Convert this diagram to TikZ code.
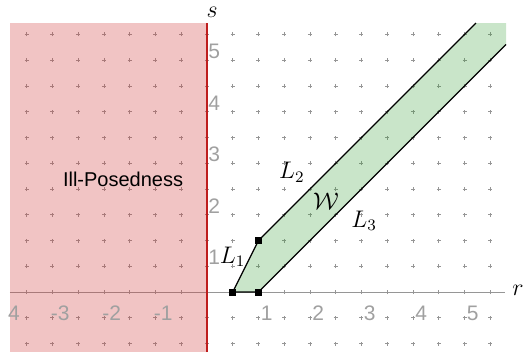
\documentclass[tikz,border=0pt]{standalone}
\usepackage{amsmath}
\usepackage{fontspec}
\setsansfont{Liberation Sans}
\usepackage{xcolor}
\usetikzlibrary{calc}
\definecolor{illred}{RGB}{210,60,60}
\definecolor{wgreen}{RGB}{40,150,40}
\definecolor{axisred}{RGB}{190,30,30}
\definecolor{gridgray}{RGB}{150,150,150}
\definecolor{ticklab}{RGB}{160,160,160}

\begin{document}
\begin{tikzpicture}[
  x=25.75pt, y=25.75pt,
  gdot/.style={gridgray, line width=0.4pt},
  ticklbl/.style={font=\sffamily\fontsize{10.5}{12}\selectfont, text=ticklab, inner sep=0pt},
  mlbl/.style={font=\fontsize{11.5}{13}\selectfont, inner sep=0pt},
  corner/.style={draw, fill=black, rectangle, minimum size=3pt, inner sep=0pt},
  bound/.style={draw=black, line width=0.6pt}
]
  \useasboundingbox (-4.019,-1.165) rectangle (6.136,5.670);

  % dotted grid, half units
  \foreach \i in {-7,...,11}
    \foreach \j in {-2,...,10}
      \draw[gdot] ($(\i*0.5,\j*0.5)+(-1pt,0)$) -- ++(2pt,0)
                  ($(\i*0.5,\j*0.5)+(0,-1pt)$) -- ++(0,2pt);
  \draw[gridgray, line width=0.5pt] (-3.825,0) -- (5.79,0);

  % ill-posed half plane
  \fill[illred, fill opacity=0.3] (-3.825,-1.165) rectangle (0,5.223);
  \draw[axisred, line width=1pt] (0,-1.165) -- (0,5.223);

  % region W
  \coordinate (A) at (0.5,0);
  \coordinate (B) at (1,0);
  \coordinate (C) at (1,1);
  \coordinate (D) at (5.806,4.806);
  \coordinate (E) at (5.806,5.223);
  \coordinate (F) at (5.223,5.223);
  \fill[wgreen, fill opacity=0.25] (A) -- (B) -- (D) -- (E) -- (F) -- (C) -- cycle;
  \draw[bound] (C) -- (A) -- (B) -- (D);
  \draw[bound] (C) -- (F);
  \node[corner] (pa) at (A) {};
  \node[corner] (pb) at (B) {};
  \node[corner] (pc) at (C) {};

  % tick labels
  \foreach \k in {1,...,5}
    \node[ticklbl] (xl\k) at (\k+0.16,-0.41) {\k};
  \foreach \k in {1,2,3}
    \node[ticklbl] (xn\k) at (-\k+0.15,-0.41) {-\k};
  \node[ticklbl] (xn4) at (-3.75,-0.41) {4};
  \foreach \k in {1,...,5}
    \node[ticklbl] (yl\k) at (0.14,\k-0.33) {\k};

  % labels
  \node[mlbl] (slab) at (0.1,5.44) {$s$};
  \node[mlbl] (rlab) at (6.04,0.03) {$r$};
  \node[mlbl] (l1) at (0.5,0.68) {$L_1$};
  \node[mlbl] (l2) at (1.65,2.33) {$L_2$};
  \node[mlbl] (l3) at (3.05,1.38) {$L_3$};
  \node[mlbl] (w) at (2.31,1.77) {$\mathcal{W}$};
  \node[font=\sffamily\fontsize{10}{12}\selectfont, inner sep=0pt] (ill) at (-1.63,2.19) {Ill-Posedness};
\end{tikzpicture}
\end{document}
